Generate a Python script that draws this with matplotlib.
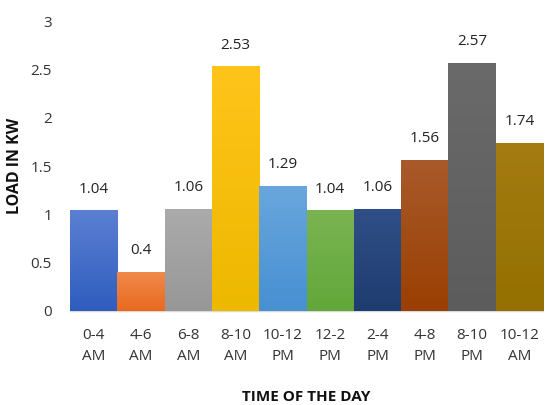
import matplotlib
matplotlib.use("Agg")
import matplotlib.pyplot as plt
import numpy as np
from matplotlib.colors import LinearSegmentedColormap, to_rgb

categories = ["0-4\nAM", "4-6\nAM", "6-8\nAM", "8-10\nAM", "10-12\nPM",
              "12-2\nPM", "2-4\nPM", "4-8\nPM", "8-10\nPM", "10-12\nAM"]
values = [1.04, 0.4, 1.06, 2.53, 1.29, 1.04, 1.06, 1.56, 2.57, 1.74]
value_labels = ["1.04", "0.4", "1.06", "2.53", "1.29", "1.04", "1.06", "1.56", "2.57", "1.74"]
colors_top = ["#5B80D2", "#F08A4A", "#ABABAB", "#FFC41A", "#69A6DD",
              "#7AB452", "#2F4F86", "#A95A2A", "#6A6A6A", "#A47C12"]
colors_bottom = ["#2F5DBE", "#E8691E", "#979797", "#EDB800", "#4790D2",
                 "#62A73A", "#1F3C70", "#9A3F03", "#5C5C5C", "#947000"]

plt.rcParams['font.family'] = ['Open Sans', 'DejaVu Sans']

fig = plt.figure(figsize=(5.49, 4.05), dpi=100)
ax = fig.add_axes([70/549, 1-311/405, (543-70)/549, (311-21)/405])

x = np.arange(len(values))
bars = ax.bar(x, values, width=1.0, color=colors_bottom, edgecolor='none', zorder=2)

ax.set_xlim(-0.5, len(values)-0.5)
ax.set_ylim(0, 3)

grad = np.linspace(0, 1, 256).reshape(-1, 1)
for b, ct, cb in zip(bars, colors_top, colors_bottom):
    cmap = LinearSegmentedColormap.from_list("g", [to_rgb(cb), to_rgb(ct)])
    x0, y0 = b.get_x(), b.get_y()
    w, h = b.get_width(), b.get_height()
    im = ax.imshow(grad, cmap=cmap, extent=[x0, x0+w, y0, y0+h],
                   aspect='auto', origin='lower', zorder=3)
    im.set_clip_path(b)

for xi, v, lab in zip(x, values, value_labels):
    ax.annotate(lab, (xi, v), xytext=(0, 10), textcoords='offset points',
                ha='center', va='bottom', fontsize=11, color='#222222')

ax.set_xticks(x)
ax.set_xticklabels(categories, fontsize=11, color='#333333', linespacing=1.6)
ax.set_yticks([0, 0.5, 1, 1.5, 2, 2.5, 3])
ax.set_yticklabels(["0", "0.5", "1", "1.5", "2", "2.5", "3"], fontsize=11, color='#333333')
ax.tick_params(axis='both', length=0)
ax.tick_params(axis='x', pad=12)
ax.tick_params(axis='y', pad=13)
for s in ['top', 'right', 'left']:
    ax.spines[s].set_visible(False)
ax.spines['bottom'].set_color('#D9D9D9')
ax.spines['bottom'].set_linewidth(1.0)

ax.set_xlabel("TIME OF THE DAY", fontsize=11, fontweight='bold', color='#111111')
ax.set_ylabel("LOAD IN KW", fontsize=11.5, fontweight='bold', color='#111111')
ax.xaxis.set_label_coords(0.5, -(397-311)/290, transform=ax.transAxes)
ax.xaxis.label.set_va('center')
ax.yaxis.set_label_coords(-(70-15)/473, 0.5, transform=ax.transAxes)
ax.yaxis.label.set_va('center')

fig.savefig("out.png", dpi=100)
